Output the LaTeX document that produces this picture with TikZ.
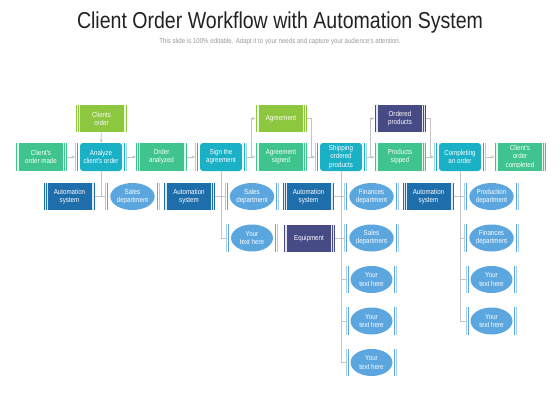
\documentclass[tikz,border=0pt]{standalone}
\usepackage{fontspec}
\newfontfamily\nf{Liberation Sans}[FakeStretch=0.85]
\usetikzlibrary{arrows.meta,shapes.geometric}
\definecolor{limec}{HTML}{8DC63F}
\definecolor{mintc}{HTML}{3EC48C}
\definecolor{tealc}{HTML}{1AB0C6}
\definecolor{teallt}{HTML}{9AD9E4}
\definecolor{navyc}{HTML}{1F6EAC}
\definecolor{skyc}{HTML}{5BA6DF}
\definecolor{skylt}{HTML}{A8CDEE}
\definecolor{plumc}{HTML}{474B85}
\definecolor{connc}{HTML}{C4C4C4}
\definecolor{titlec}{HTML}{222222}
\definecolor{subc}{HTML}{9A9A9A}
\newcommand\sidebars[3]{%
  \draw[#2,line width=1pt] ([xshift=0.6pt]#1.west |- #1.north) -- ([xshift=0.6pt]#1.west |- #1.south);
  \draw[#3,line width=1pt] ([xshift=2.6pt]#1.west |- #1.north) -- ([xshift=2.6pt]#1.west |- #1.south);
  \draw[#2,line width=1pt] ([xshift=-0.6pt]#1.east |- #1.north) -- ([xshift=-0.6pt]#1.east |- #1.south);
  \draw[#3,line width=1pt] ([xshift=-2.6pt]#1.east |- #1.north) -- ([xshift=-2.6pt]#1.east |- #1.south);
}
\tikzset{
  x=1pt,y=-1pt,
  txt/.style={text=white, align=center, font=\nf\fontsize{7.3}{8.2}\selectfont, inner sep=0pt},
  box/.style={txt, rectangle, minimum width=51pt, minimum height=28pt,
    path picture={\foreach \dd in {1.3,3.1}{
      \draw[white,line width=0.5pt,opacity=.85] ([xshift=\dd pt]path picture bounding box.south west) -- ([xshift=\dd pt]path picture bounding box.north west);
      \draw[white,line width=0.5pt,opacity=.85] ([xshift=-\dd pt]path picture bounding box.south east) -- ([xshift=-\dd pt]path picture bounding box.north east);}}},
  topbox/.style={box, fill=limec, minimum height=27pt},
  mainbox/.style={box, fill=mintc},
  autobox/.style={box, fill=navyc, minimum height=27pt},
  plumbox/.style={box, fill=plumc, minimum height=27pt},
  rbox/.style={txt, rectangle, rounded corners=3pt, fill=tealc, minimum width=42pt, minimum height=28pt, outer xsep=5pt},
  ell/.style={txt, ellipse, fill=skyc, minimum width=42pt, minimum height=27pt, outer xsep=5pt},
  arr/.style={draw=connc, line width=0.6pt, -{Stealth[length=3.4pt,width=3pt]}},
  ln/.style={draw=connc, line width=0.6pt},
}
\begin{document}
\begin{tikzpicture}
\useasboundingbox[fill=white] (0,0) rectangle (560,420);
\node[font=\nf\fontsize{23}{26}\selectfont, text=titlec, anchor=base, inner sep=0pt] (title) at (280,29) {Client Order Workflow with Automation System};
\node[font=\nf\fontsize{7.2}{8}\selectfont, text=subc, anchor=base, inner sep=0pt] (sub) at (280,44) {This slide is 100\% editable. Adapt it to your needs and capture your audience's attention.};

% top row
\node[topbox] (co) at (101.5,118.5) {Clients\\order};
\node[topbox] (ag) at (281,118.5) {Agreement};
\node[plumbox] (op) at (400,118.5) {Ordered\\products};
% main row
\node[mainbox] (cm) at (41,157) {Client's\\order made};
\node[rbox] (an) at (101,157) {Analyze\\client's order};
\node[mainbox] (oa) at (161.5,157) {Order\\analyzed};
\node[rbox] (sg) at (221,157) {Sign the\\agreement};
\node[mainbox] (as) at (281,157) {Agreement\\signed};
\node[rbox] (sh) at (341,157) {Shipping\\ordered\\products};
\node[mainbox] (ps) at (400,157) {Products\\sipped};
\node[rbox] (ca) at (460,157) {Completing\\an order};
\node[mainbox] (cc) at (520,157) {Client's\\order\\completed};
\foreach \n in {an,sg,sh,ca}{\sidebars{\n}{teallt}{tealc}}

% lower rows
\node[autobox] (a1) at (69.5,196.5) {Automation\\system};
\node[ell] (s1) at (132.5,196.5) {Sales\\department};
\node[autobox] (a2) at (189,196.5) {Automation\\system};
\node[ell] (s2) at (252,196.5) {Sales\\department};
\node[ell] (y1) at (252,238) {Your\\text here};
\node[autobox] (a3) at (308.5,196.5) {Automation\\system};
\node[plumbox] (eq) at (309,238.5) {Equipment};
\node[ell] (f1) at (371.5,196.5) {Finances\\department};
\node[ell] (s3) at (371.5,238) {Sales\\department};
\node[ell] (y2) at (371.5,279.5) {Your\\text here};
\node[ell] (y3) at (371.5,321) {Your\\text here};
\node[ell] (y4) at (371.5,362.5) {Your\\text here};
\node[autobox] (a4) at (428.5,196.5) {Automation\\system};
\node[ell] (p1) at (491.5,196.5) {Production\\department};
\node[ell] (f2) at (491.5,238) {Finances\\department};
\node[ell] (y5) at (491.5,279.5) {Your\\text here};
\node[ell] (y6) at (491.5,321) {Your\\text here};
\foreach \n in {s1,s2,y1,f1,s3,y2,y3,y4,p1,f2,y5,y6}{\sidebars{\n}{skylt}{skyc}}

% main arrows
\draw[arr] (cm) -- (an);
\draw[arr] (an) -- (oa);
\draw[arr] (oa) -- (sg);
\draw[arr] (sg) -- (as);
\draw[arr] (as) -- (sh);
\draw[arr] (sh) -- (ps);
\draw[arr] (ps) -- (ca);
\draw[arr] (ca) -- (cc);
\draw[arr] (co) -- (an);
\coordinate (b1) at (251,157);
\coordinate (b2) at (311,157);
\coordinate (b3) at (370.5,157);
\coordinate (b4) at (430,157);
\draw[arr] (b1) |- (ag.west);
\draw[ln] (ag.east) -| (b2);
\draw[arr] (b3) |- (op.west);
\draw[ln] (op.east) -| (b4);

% tree lines
\draw[ln] (an.south) |- (s1.west);
\draw[ln] (an.south |- a1.east) -- (a1.east);
\draw[ln] (sg.south) |- (y1.west);
\draw[ln] (sg.south |- a2.east) -- (a2.east);
\draw[ln] (sg.south |- s2.west) -- (s2.west);
\draw[ln] (sh.south) |- (y4.west);
\draw[ln] (sh.south |- a3.east) -- (a3.east);
\draw[ln] (sh.south |- eq.east) -- (eq.east);
\foreach \n in {f1,s3,y2,y3}{\draw[ln] (sh.south |- \n.west) -- (\n.west);}
\draw[ln] (ca.south) |- (y6.west);
\draw[ln] (ca.south |- a4.east) -- (a4.east);
\foreach \n in {p1,f2,y5}{\draw[ln] (ca.south |- \n.west) -- (\n.west);}
\end{tikzpicture}
\end{document}
